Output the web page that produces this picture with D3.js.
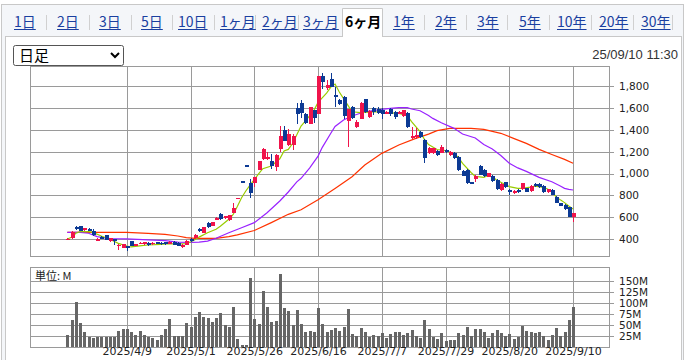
<!DOCTYPE html>
<html><head><meta charset="utf-8">
<script src="https://cdn.jsdelivr.net/npm/d3@7"></script>
<style>
body{margin:0;background:#fff;}
svg{display:block;}
</style>
</head><body>
<svg id="c" width="685" height="360"></svg>
<script>
// ---------- DATA ----------
const tabLabels = ["1日","2日","3日","5日","10日","1ヶ月","2ヶ月","3ヶ月","6ヶ月","1年","2年","3年","5年","10年","20年","30年"];
const activeTab = "6ヶ月";
const periodLabel = "日足";
const stamp = "25/09/10 11:30";
const volUnit = "単位: M";

const tickDates = ["2025/4/9","2025/5/1","2025/5/26","2025/6/16","2025/7/7","2025/7/29","2025/8/20","2025/9/10"];
const tickIndex = [14,29,44,59,74,89,104,119];
const priceTicks = [400,600,800,1000,1200,1400,1600,1800];
const volTicks = [25,50,75,100,125,150];

const open  = [400,409,512,522,485,498,480,388,425,435,380,400,345,324,338,385,342,360,355,365,355,375,368,372,365,378,370,330,350,405,
               408,495,460,552,521,582,628,590,578,643,780,930,1075,911,917,1033,1130,1130,1115,1060,1227,1398,1261,1261,1596,1641,1544,1453,1581,1544,
               1891,1778,1860,1720,1672,1702,1483,1605,1425,1500,1680,1520,1600,1590,1578,1552,1590,1565,1550,1530,1550,1322,1330,1383,1307,1185,1190,1210,1191,1215,
               1170,1191,1154,1024,1033,920,951,1069,1033,972,981,942,850,920,850,820,850,856,865,841,905,905,887,829,850,789,728,713,692,607];
const high  = [415,475,520,525,505,502,490,410,430,440,412,405,355,358,340,388,358,378,375,372,372,378,372,375,385,382,372,355,390,412,
               445,505,515,555,560,600,640,612,622,735,780,930,1075,947,972,1118,1237,1200,1176,1176,1434,1434,1404,1361,1641,1672,1550,1610,1585,1895,
               1921,1854,1921,1794,1680,1710,1590,1615,1490,1650,1685,1585,1612,1610,1600,1570,1600,1575,1570,1585,1560,1428,1415,1390,1315,1240,1238,1215,1258,1225,
               1205,1200,1160,1030,1040,925,985,1075,1038,1008,985,950,910,925,855,848,856,915,870,892,912,912,895,862,856,795,735,720,698,640];
const low   = [393,405,488,475,480,475,430,380,400,395,375,348,298,320,292,340,338,355,352,340,350,355,345,352,360,345,335,325,345,378,
               405,470,458,505,518,575,575,585,570,638,780,930,1075,780,880,1030,1124,1120,1040,1023,1200,1295,1252,1215,1450,1505,1455,1450,1459,1540,
               1770,1763,1790,1611,1625,1498,1246,1500,1418,1495,1550,1510,1535,1540,1500,1540,1530,1500,1545,1520,1420,1315,1320,1325,1093,1180,1175,1160,1185,1190,
               1165,1135,1025,975,905,915,926,985,970,965,920,850,845,870,805,815,822,850,830,835,875,870,820,825,800,728,702,668,603,561];
const close = [405,470,506,480,500,478,435,400,405,398,408,385,352,354,332,342,354,368,372,355,368,360,355,358,375,350,338,352,385,382,
               435,475,512,512,558,590,585,610,618,690,781,929,1074,826,969,1115,1221,1150,1070,1170,1343,1298,1361,1343,1541,1550,1460,1605,1505,1891,
               1840,1809,1794,1700,1632,1526,1587,1504,1475,1647,1558,1575,1560,1555,1548,1562,1545,1520,1560,1578,1425,1340,1350,1331,1145,1235,1232,1170,1246,1195,
               1200,1140,1035,982,912,918,981,990,975,1002,930,858,905,876,830,844,828,911,836,887,890,878,828,856,806,735,708,675,607,637];
const volume = [26,60.6,101.8,53.7,33,22.5,20,22.5,23,23,23,22.5,35.5,40,40,33,26,35.5,26,23,20,15,26,40,63,24,24,24,53.7,44.6,
                67.5,78.9,67.5,65,56,65,76.6,49,44.6,90,17,3.5,3.5,159,63,51,127,90,56,58,168,88,81,49,83.5,51,33,35.5,33,88,
                51,33,37.7,42,35.5,44.6,85.8,28.6,24,42,33,21.7,26,24,31,19.4,28.6,33,33,26,31,37.7,24,19.4,60.6,40,21.7,17,31,12.6,
                15,15,31,26,44.6,24,40,40,33,19.4,31,37.7,31,24,28.6,17,21.7,47,35.5,33,31,33,24,15,26,42,24,33,60.6,90];
// moving averages as [day index, value]
const ma5 = [[0,403],[1,418],[2,455],[3,470],[5,470],[6,463],[8,430],[10,400],[12,363],[14,339],[15,330],[17,340],[19,348],[22,354],[24,360],[26,357],[28,360],[29,375],[30,395],[31,420],[33,460],[35,492],[36,520],[38,583],[39,625],[40,700],[41,780],[42,841],[43,895],[45,997],[46,1045],[48,1069],[50,1135],[51,1206],[52,1221],[53,1275],[55,1434],[56,1480],[58,1575],[59,1650],[61,1735],[62,1790],[63,1818],[64,1745],[66,1625],[67,1565],[69,1556],[70,1559],[73,1565],[75,1556],[78,1550],[80,1530],[81,1475],[83,1383],[84,1315],[85,1265],[87,1220],[89,1210],[91,1180],[92,1150],[93,1094],[95,1010],[96,975],[98,966],[99,982],[100,970],[101,941],[103,900],[104,881],[106,865],[107,865],[109,876],[110,885],[112,875],[113,860],[114,835],[115,789],[116,760],[117,735],[118,705],[119,677]];
const ma25 = [[0,464],[3,464],[5,455],[7,424],[10,406],[14,403],[19,394],[23,388],[26,375],[29,372],[31,375],[33,384],[35,410],[38,460],[41,506],[44,552],[47,643],[50,750],[52,832],[54,925],[55,957],[57,1050],[59,1160],[60,1240],[62,1368],[63,1430],[65,1489],[67,1526],[70,1565],[74,1587],[76,1596],[78,1602],[80,1602],[81,1590],[83,1574],[85,1530],[86,1504],[88,1465],[91,1413],[93,1361],[96,1325],[98,1265],[100,1225],[102,1165],[104,1095],[106,1052],[108,1020],[109,1002],[111,966],[114,926],[116,887],[117,865],[118,856],[119,850]];
const ma75 = [[0,464],[14,464],[19,455],[23,445],[26,430],[28,415],[30,408],[35,409],[38,425],[40,440],[44,480],[48,552],[52,628],[55,670],[59,762],[63,865],[67,972],[70,1078],[74,1185],[78,1261],[82,1322],[85,1361],[87,1392],[90,1413],[95,1413],[98,1404],[102,1368],[105,1322],[108,1276],[111,1221],[114,1175],[117,1130],[119,1094]];

// ---------- LAYOUT ----------
const svg = d3.select("#c");
const plot = {l:30, r:609, t:66, b:256};
const vplot = {l:30, r:609, t:267, b:346.5};
const C = {red:"#f0144b", blue:"#0c3a94", grid:"#9a9a9a", vol:"#666666",
           m5:"#99cc00", m25:"#9922ff", m75:"#ff3300", text:"#333", link:"#1a3fa0"};

svg.append("rect").attr("x",1.5).attr("y",4.5).attr("width",682).attr("height",360).attr("fill","#f4f6f9").attr("stroke","#c8c8c8");
svg.append("rect").attr("x",5.5).attr("y",36.5).attr("width",676).attr("height",330).attr("fill","#fff").attr("stroke","#c8c8c8");

const tabX = [14,57,99,141,178,220,262,303,345,393,435,477,519,557,599,641];
const sepX = [46,89,131,172,214,255,298,424,466,507,549,591,633,672];
const tabG = svg.append("g");
tabG.append("path").attr("d","M342.5,37 V8.5 H382.5 V37").attr("fill","#fff").attr("stroke","#c8c8c8");
tabG.append("rect").attr("x",343).attr("y",35).attr("width",39).attr("height",3).attr("fill","#fff");
sepX.forEach(x=>tabG.append("line").attr("x1",x+0.5).attr("x2",x+0.5).attr("y1",15).attr("y2",30).attr("stroke","#d0d0d0"));
tabLabels.forEach((t,i)=>{
  const act = t===activeTab;
  const tx = tabG.append("text").attr("x",tabX[i]).attr("y",27)
    .attr("font-family","'Noto Sans CJK JP',sans-serif").attr("font-size",14)
    .attr("fill", act? "#000": C.link).attr("font-weight", act? "bold":"normal")
    .text(t);
  if(!act){
    const w = tx.node().getComputedTextLength();
    tabG.append("line").attr("x1",tabX[i]).attr("x2",tabX[i]+w).attr("y1",29.5).attr("y2",29.5).attr("stroke",C.link);
  }
});

svg.append("rect").attr("x",13.5).attr("y",45.5).attr("width",110).attr("height",20).attr("rx",2)
  .attr("fill","#fff").attr("stroke","#555");
svg.append("text").attr("x",19).attr("y",61).attr("font-family","'Noto Sans CJK JP',sans-serif").attr("font-size",15).attr("fill","#000").text(periodLabel);
svg.append("path").attr("d","M111,53 L115,57 L119,53").attr("fill","none").attr("stroke","#000").attr("stroke-width",2);
svg.append("text").attr("x",678).attr("y",59).attr("text-anchor","end").attr("font-family","'Liberation Sans',Arial,sans-serif")
  .attr("font-size",13).attr("fill",C.text).text(stamp);

// ---------- SCALES ----------
const x = d3.scaleLinear().domain([-8.78,127.46]).range([plot.l, plot.r]);
const y = d3.scaleLinear().domain([247.5,1982.6]).range([plot.b, plot.t]);
const yv = d3.scaleLinear().domain([0,183.2]).range([vplot.b, vplot.t]);

// ---------- PRICE PANEL ----------
const pg = svg.append("g").attr("shape-rendering","crispEdges");
pg.append("rect").attr("x",plot.l+0.5).attr("y",plot.t+0.5).attr("width",plot.r-plot.l).attr("height",plot.b-plot.t).attr("fill","#fff");
priceTicks.forEach(v=>pg.append("line").attr("x1",plot.l).attr("x2",plot.r+5).attr("y1",Math.round(y(v))+0.5).attr("y2",Math.round(y(v))+0.5).attr("stroke",C.grid));
tickIndex.forEach(i=>pg.append("line").attr("x1",Math.round(x(i))+0.5).attr("x2",Math.round(x(i))+0.5).attr("y1",plot.t).attr("y2",plot.b).attr("stroke",C.grid));
pg.append("rect").attr("x",plot.l+0.5).attr("y",plot.t+0.5).attr("width",plot.r-plot.l).attr("height",plot.b-plot.t).attr("fill","none").attr("stroke",C.grid);

const yAxis = d3.axisRight(y).tickValues(priceTicks).tickSize(0).tickPadding(10).tickFormat(d3.format(","));
const ya = svg.append("g").attr("transform",`translate(${plot.r},0)`).call(yAxis);
ya.select(".domain").remove();
ya.selectAll("text").attr("font-family","'DejaVu Sans',sans-serif").attr("font-size",10.5).attr("fill","#222");

const line = d3.line().x(d=>x(d[0])).y(d=>y(d[1]));
[[ma75,C.m75],[ma25,C.m25],[ma5,C.m5]].forEach(([d,c])=>
  svg.append("path").attr("d",line(d)).attr("fill","none").attr("stroke",c).attr("stroke-width",1.2));

const cg = svg.append("g").attr("shape-rendering","crispEdges");
open.forEach((o,i)=>{
  const c = close[i], up = c>=o, col = up? C.red: C.blue;
  const cx = Math.round(x(i));
  cg.append("line").attr("x1",cx+0.5).attr("x2",cx+0.5).attr("y1",y(high[i])).attr("y2",y(low[i])).attr("stroke",col);
  const top = y(Math.max(o,c)), bot = y(Math.min(o,c));
  cg.append("rect").attr("x",cx-1).attr("width",4).attr("y",top).attr("height",Math.max(1.5,bot-top)).attr("fill",col);
});

// ---------- VOLUME PANEL ----------
const vg = svg.append("g").attr("shape-rendering","crispEdges");
volTicks.forEach(v=>vg.append("line").attr("x1",vplot.l).attr("x2",vplot.r+5).attr("y1",Math.round(yv(v))+0.5).attr("y2",Math.round(yv(v))+0.5).attr("stroke",C.grid));
tickIndex.forEach(i=>vg.append("line").attr("x1",Math.round(x(i))+0.5).attr("x2",Math.round(x(i))+0.5).attr("y1",vplot.t).attr("y2",vplot.b).attr("stroke",C.grid));
vg.append("rect").attr("x",vplot.l+0.5).attr("y",vplot.t+0.5).attr("width",vplot.r-vplot.l).attr("height",vplot.b-vplot.t).attr("fill","none").attr("stroke",C.grid);
volume.forEach((v,i)=>{
  const cx = Math.round(x(i));
  vg.append("rect").attr("x",cx-1).attr("width",3).attr("y",yv(v)).attr("height",yv(0)-yv(v)).attr("fill",C.vol);
});
const vAxis = d3.axisRight(yv).tickValues(volTicks).tickSize(0).tickPadding(10).tickFormat(d=>d+"M");
const va = svg.append("g").attr("transform",`translate(${vplot.r},0)`).call(vAxis);
va.select(".domain").remove();
va.selectAll("text").attr("font-family","'DejaVu Sans',sans-serif").attr("font-size",10.5).attr("fill","#222");
svg.append("text").attr("x",35).attr("y",280).attr("font-family","'Noto Sans CJK JP',sans-serif").attr("font-size",11).attr("fill","#222").text(volUnit);

const xAxis = d3.axisBottom(x).tickValues(tickIndex).tickSize(0).tickPadding(0).tickFormat((d,i)=>tickDates[i]);
const xa = svg.append("g").attr("transform",`translate(0,${vplot.b+1})`).call(xAxis);
xa.select(".domain").remove();
xa.selectAll("text").attr("font-family","'DejaVu Sans',sans-serif").attr("font-size",11).attr("fill","#222").attr("dy","0.71em");
</script>
</body></html>
